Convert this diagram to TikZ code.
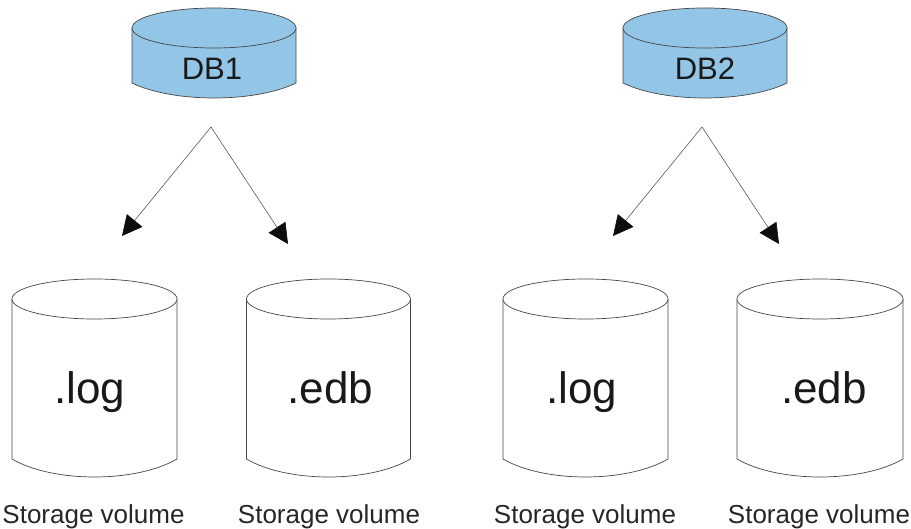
\documentclass[tikz,border=0pt]{standalone}
\usepackage{fontspec}
\setmainfont{Liberation Sans}
\usetikzlibrary{arrows.meta}
\definecolor{dbblue}{RGB}{147,197,230}
\definecolor{outl}{RGB}{70,70,70}
\newcommand\drawcyl[7]{%
  \path[fill=#7] ({#1-#6},#2) -- ({#1-#6},#4) .. controls ({#1-0.5*#6},{#4+4/3*#5}) and ({#1+0.5*#6},{#4+4/3*#5}) .. ({#1+#6},#4) -- ({#1+#6},#2) -- cycle;
  \draw[cylline] ({#1-#6},#2) -- ({#1-#6},#4) .. controls ({#1-0.5*#6},{#4+4/3*#5}) and ({#1+0.5*#6},{#4+4/3*#5}) .. ({#1+#6},#4) -- ({#1+#6},#2);
  \draw[cylline,fill=#7] (#1,#2) ellipse [x radius=#6, y radius=#3];
}
\begin{document}
\begin{tikzpicture}[x=1pt,y=-1pt,
  cylline/.style={draw=outl,line width=0.7pt},
  dblabel/.style={font=\fontsize{31}{31}\selectfont,inner sep=0pt,text=black!90},
  extlabel/.style={font=\fontsize{44}{44}\selectfont,inner sep=0pt,anchor=base,text=black!90},
  svlabel/.style={font=\fontsize{26}{26}\selectfont,inner sep=0pt,anchor=base,text=black!85},
  arr/.style={draw=black!65,line width=0.6pt,-{Triangle[length=20pt,width=20pt,color=black!95,fill=black!95]}}]
\useasboundingbox (0,0) rectangle (911,529);
% databases
\drawcyl{214}{28}{20}{83}{15}{82}{dbblue}
\drawcyl{705}{28}{20}{83}{15}{82}{dbblue}
\node[dblabel] (db1) at (212,69) {DB1};
\node[dblabel] (db2) at (705,69) {DB2};
% storage volumes
\drawcyl{94.5}{299}{20}{459}{18}{82.5}{white}
\drawcyl{328.5}{299}{20}{459}{18}{82}{white}
\drawcyl{585.5}{299}{20}{459}{18}{82.5}{white}
\drawcyl{820}{299}{20}{459}{18}{83}{white}
\node[extlabel] (log1) at (89.5,403) {.log};
\node[extlabel] (edb1) at (330.5,403) {.edb};
\node[extlabel] (log2) at (582,403) {.log};
\node[extlabel] (edb2) at (824,403) {.edb};
\node[svlabel] (sv1) at (93.5,523) {Storage volume};
\node[svlabel] (sv2) at (329,523) {Storage volume};
\node[svlabel] (sv3) at (585,523) {Storage volume};
\node[svlabel] (sv4) at (819,523) {Storage volume};
% arrows
\coordinate (apex1) at (211,127);
\coordinate (apex2) at (702,127);
\coordinate (t1) at (122,236);
\coordinate (t2) at (288,244);
\coordinate (t3) at (613,236);
\coordinate (t4) at (779,244);
\draw[arr] (apex1) -- (t1);
\draw[arr] (apex1) -- (t2);
\draw[arr] (apex2) -- (t3);
\draw[arr] (apex2) -- (t4);
\end{tikzpicture}
\end{document}
